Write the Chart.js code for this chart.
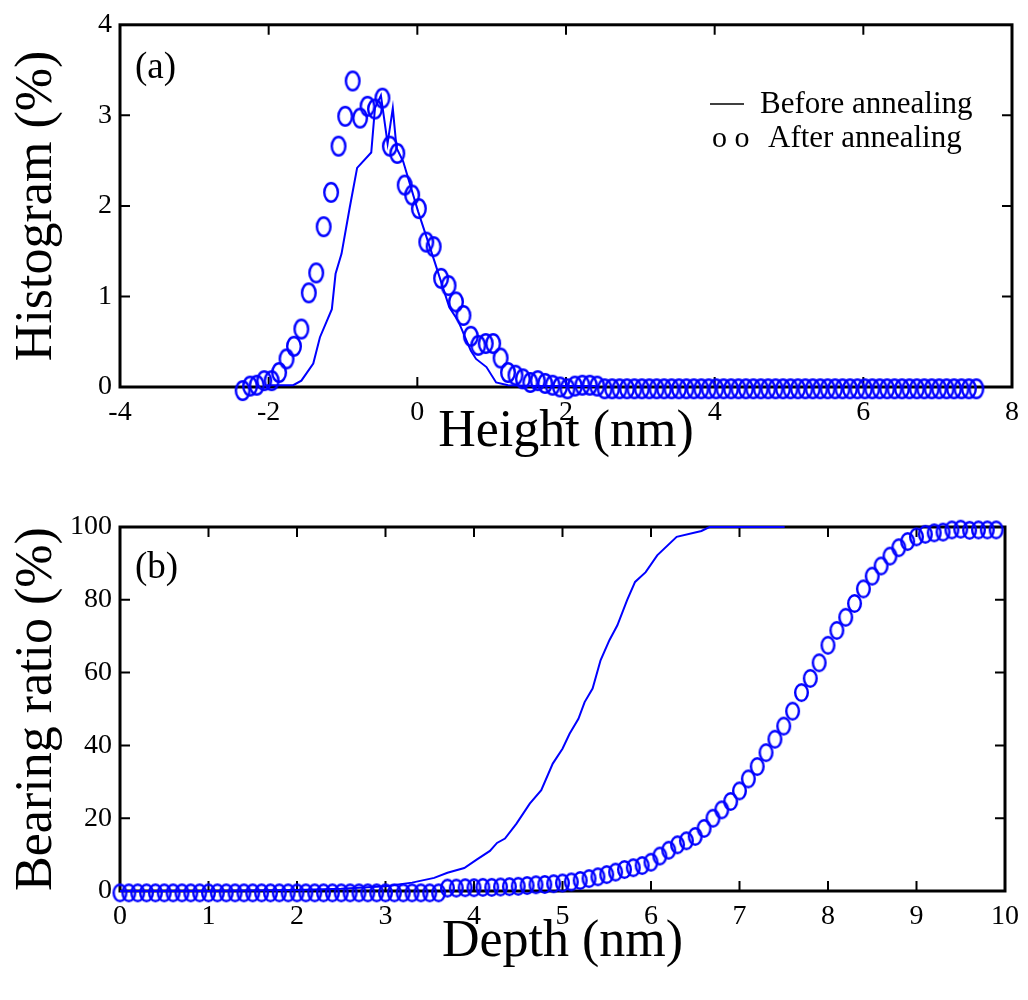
<!DOCTYPE html>
<html>
<head>
<meta charset="utf-8">
<script src="https://cdn.jsdelivr.net/npm/chart.js@4.4.1/dist/chart.umd.min.js"></script>
<style>
  html, body { margin: 0; padding: 0; background: #fff; }
  #wrap { position: relative; width: 1028px; height: 1000px; }
  canvas { position: absolute; left: 0; }
  #histChart { top: 0; }
  #bearingChart { top: 500px; }
</style>
</head>
<body>
<div id="wrap">
  <canvas id="histChart" width="1028" height="500"></canvas>
  <canvas id="bearingChart" width="1028" height="500"></canvas>
</div>
<script>
// ---- (a) height histogram ----
const histXTicks = [-4, -2, 0, 2, 4, 6, 8];
const histYTicks = [0, 1, 2, 3, 4];

const histBeforeX = [-2.03, -1.67, -1.56, -1.40, -1.31, -1.15, -1.10, -1.02, -0.91, -0.81, -0.62, -0.57, -0.49, -0.40, -0.33, -0.28, -0.19, 0.01, 0.23, 0.43, 0.55, 0.72, 0.79, 0.93, 1.06, 1.22, 1.6, 2.0, 2.4];
const histBeforeY = [0.02, 0.02, 0.07, 0.26, 0.55, 0.86, 1.25, 1.47, 1.98, 2.42, 2.59, 3.08, 3.22, 2.69, 3.08, 2.64, 2.49, 1.94, 1.39, 0.88, 0.73, 0.40, 0.31, 0.22, 0.05, 0.02, 0.01, 0.01, 0.01];

const histAfterX = [-2.35, -2.25, -2.16, -2.06, -1.96, -1.86, -1.76, -1.66, -1.56, -1.46,
  -1.36, -1.26, -1.16, -1.06, -0.97, -0.87, -0.77, -0.67, -0.57, -0.47,
  -0.37, -0.27, -0.17, -0.07, 0.02, 0.12, 0.22, 0.32, 0.42, 0.52,
  0.62, 0.72, 0.82, 0.92, 1.02, 1.12, 1.22, 1.32, 1.42, 1.52,
  1.62, 1.72, 1.82, 1.92, 2.02, 2.12, 2.22, 2.32, 2.42, 2.52,
  2.62, 2.72, 2.82, 2.92, 3.02, 3.12, 3.22, 3.32, 3.42, 3.52,
  3.62, 3.72, 3.82, 3.92, 4.02, 4.12, 4.22, 4.32, 4.42, 4.52,
  4.62, 4.72, 4.82, 4.92, 5.02, 5.12, 5.22, 5.32, 5.42, 5.52,
  5.62, 5.72, 5.82, 5.92, 6.02, 6.12, 6.22, 6.32, 6.42, 6.52,
  6.62, 6.72, 6.82, 6.92, 7.02, 7.12, 7.22, 7.32, 7.42, 7.52];
const histAfterY = [-0.04, 0.01, 0.02, 0.07, 0.07, 0.16, 0.31, 0.45, 0.64, 1.04,
  1.26, 1.77, 2.15, 2.66, 2.99, 3.38, 2.97, 3.10, 3.07, 3.19,
  2.66, 2.58, 2.23, 2.12, 1.97, 1.60, 1.55, 1.20, 1.12, 0.94,
  0.79, 0.56, 0.46, 0.48, 0.48, 0.32, 0.16, 0.13, 0.09, 0.05,
  0.07, 0.04, 0.02, 0.00, -0.02, 0.01, 0.02, 0.02, 0.01, -0.02,
  -0.02, -0.02, -0.02, -0.02, -0.02, -0.02, -0.02, -0.02, -0.02, -0.02,
  -0.02, -0.02, -0.02, -0.02, -0.02, -0.02, -0.02, -0.02, -0.02, -0.02,
  -0.02, -0.02, -0.02, -0.02, -0.02, -0.02, -0.02, -0.02, -0.02, -0.02,
  -0.02, -0.02, -0.02, -0.02, -0.02, -0.02, -0.02, -0.02, -0.02, -0.02,
  -0.02, -0.02, -0.02, -0.02, -0.02, -0.02, -0.02, -0.02, -0.02, -0.02];

// ---- (b) bearing ratio ----
const bearXTicks = [0, 1, 2, 3, 4, 5, 6, 7, 8, 9, 10];
const bearYTicks = [0, 20, 40, 60, 80, 100];

const bearBeforeX = [0, 1, 2, 2.5, 3.0, 3.3, 3.55, 3.7, 3.89, 4.03, 4.18, 4.26, 4.35, 4.48, 4.63, 4.76, 4.89, 5.0, 5.08, 5.18, 5.25, 5.34, 5.43, 5.53, 5.62, 5.73, 5.82, 5.94, 6.07, 6.29, 6.57, 6.66, 7.51];
const bearBeforeY = [0, 0, 0.3, 0.6, 1.3, 2.3, 3.6, 5.0, 6.3, 8.6, 11.0, 13.2, 14.4, 18.5, 24.0, 27.7, 35.0, 39.1, 43.2, 47.3, 51.9, 55.6, 63.4, 68.9, 73.0, 79.9, 84.9, 87.6, 92.2, 97.3, 98.9, 100, 100];

const bearAfterX = [0.0, 0.1, 0.2, 0.3, 0.4, 0.5, 0.6, 0.7, 0.8, 0.9,
  1.0, 1.1, 1.2, 1.3, 1.4, 1.5, 1.6, 1.7, 1.8, 1.9,
  2.0, 2.1, 2.2, 2.3, 2.4, 2.5, 2.6, 2.7, 2.8, 2.9,
  3.0, 3.1, 3.2, 3.3, 3.4, 3.5, 3.6, 3.7, 3.8, 3.9,
  4.0, 4.1, 4.2, 4.3, 4.4, 4.5, 4.6, 4.7, 4.8, 4.9,
  5.0, 5.1, 5.2, 5.3, 5.4, 5.5, 5.6, 5.7, 5.8, 5.9,
  6.0, 6.1, 6.2, 6.3, 6.4, 6.5, 6.6, 6.7, 6.8, 6.9,
  7.0, 7.1, 7.2, 7.3, 7.4, 7.5, 7.6, 7.7, 7.8, 7.9,
  8.0, 8.1, 8.2, 8.3, 8.4, 8.5, 8.6, 8.7, 8.8, 8.9,
  9.0, 9.1, 9.2, 9.3, 9.4, 9.5, 9.6, 9.7, 9.8, 9.9];
const bearAfterY = [-0.5, -0.5, -0.5, -0.5, -0.5, -0.5, -0.5, -0.5, -0.5, -0.5,
  -0.5, -0.5, -0.5, -0.5, -0.5, -0.5, -0.5, -0.5, -0.5, -0.5,
  -0.5, -0.5, -0.5, -0.5, -0.5, -0.5, -0.5, -0.5, -0.5, -0.5,
  -0.5, -0.5, -0.5, -0.5, -0.5, -0.5, -0.5, 0.8, 0.8, 0.9,
  0.9, 1.0, 1.0, 1.1, 1.2, 1.3, 1.5, 1.7, 1.8, 2.0,
  2.2, 2.5, 2.9, 3.4, 3.9, 4.5, 5.2, 5.9, 6.4, 7.0,
  7.9, 9.6, 11.2, 12.7, 13.8, 15.0, 17.2, 20.0, 22.3, 24.6,
  27.5, 30.8, 34.2, 38.0, 41.7, 45.3, 49.4, 54.5, 58.4, 62.7,
  67.5, 71.6, 75.2, 79.0, 83.0, 86.5, 89.3, 92.0, 94.3, 96.0,
  97.3, 98.0, 98.4, 98.6, 99.2, 99.4, 99.1, 99.2, 99.2, 99.2];

const FONT = '"Liberation Serif", "Times New Roman", serif';
const BLUE = 'rgb(0,0,255)';

function zip(xs, ys) {
  return xs.map((x, i) => ({ x: x, y: ys[i] }));
}

// open elliptical marker, like the reference's slightly tall circles
function ellipseMarker(w, h) {
  const c = document.createElement('canvas');
  c.width = w + 4;
  c.height = h + 4;
  const g = c.getContext('2d');
  g.strokeStyle = BLUE;
  g.lineWidth = 2.4;
  g.beginPath();
  g.ellipse(c.width / 2, c.height / 2, w / 2 - 1.2, h / 2 - 1.2, 0, 0, Math.PI * 2);
  g.stroke();
  return c;
}

// box frame + inward ticks on all four sides, then free text
const framePlugin = {
  id: 'frame',
  beforeDatasetsDraw(chart) {
    const { ctx, chartArea: a, scales } = chart;
    const tl = 10;
    ctx.save();
    ctx.strokeStyle = '#000';
    ctx.lineWidth = 2;
    ctx.beginPath();
    scales.x.ticks.forEach(t => {
      const px = scales.x.getPixelForValue(t.value);
      if (px <= a.left + 1 || px >= a.right - 1) return;
      ctx.moveTo(px, a.bottom); ctx.lineTo(px, a.bottom - tl);
      ctx.moveTo(px, a.top); ctx.lineTo(px, a.top + tl);
    });
    scales.y.ticks.forEach(t => {
      const py = scales.y.getPixelForValue(t.value);
      if (py <= a.top + 1 || py >= a.bottom - 1) return;
      ctx.moveTo(a.left, py); ctx.lineTo(a.left + tl, py);
      ctx.moveTo(a.right, py); ctx.lineTo(a.right - tl, py);
    });
    ctx.stroke();
    ctx.lineWidth = 3;
    ctx.strokeRect(a.left, a.top, a.right - a.left, a.bottom - a.top);
    ctx.restore();
  },
  afterDraw(chart, args, opts) {
    const ctx = chart.ctx;
    ctx.save();
    ctx.fillStyle = '#000';
    ctx.strokeStyle = '#000';
    (opts.lines || []).forEach(l => {
      ctx.lineWidth = l.w;
      ctx.beginPath();
      ctx.moveTo(l.x1, l.y);
      ctx.lineTo(l.x2, l.y);
      ctx.stroke();
    });
    ctx.textBaseline = 'alphabetic';
    ctx.textAlign = 'left';
    (opts.texts || []).forEach(t => {
      ctx.font = t.size + 'px ' + FONT;
      ctx.fillText(t.text, t.x, t.y);
    });
    ctx.restore();
  }
};

function makeScales(xTicks, yTicks, xTitle, yTitle, xHeight, xTitlePad) {
  const tickFont = { family: FONT, size: 28 };
  return {
    x: {
      type: 'linear',
      min: xTicks[0],
      max: xTicks[xTicks.length - 1],
      afterBuildTicks: s => { s.ticks = xTicks.map(v => ({ value: v })); },
      grid: { display: false, drawTicks: false },
      border: { display: false },
      ticks: { font: tickFont, color: '#000', padding: 9, maxRotation: 0, autoSkip: false, callback: v => String(v) },
      title: { display: true, text: xTitle, color: '#000', font: { family: FONT, size: 52, lineHeight: 1 }, padding: { top: 0, bottom: xTitlePad } },
      afterFit: s => { s.height = xHeight; }
    },
    y: {
      type: 'linear',
      min: yTicks[0],
      max: yTicks[yTicks.length - 1],
      afterBuildTicks: s => { s.ticks = yTicks.map(v => ({ value: v })); },
      grid: { display: false, drawTicks: false },
      border: { display: false },
      ticks: { font: tickFont, color: '#000', padding: 8, autoSkip: false, callback: v => String(v) },
      title: { display: true, text: yTitle, color: '#000', font: { family: FONT, size: 52, lineHeight: 1 }, padding: { top: 11, bottom: 0 } },
      afterFit: s => { s.width = 120; }
    }
  };
}

new Chart(document.getElementById('histChart'), {
  type: 'scatter',
  data: {
    datasets: [
      {
        label: 'Before annealing',
        data: zip(histBeforeX, histBeforeY),
        showLine: true,
        borderColor: BLUE,
        borderWidth: 2,
        pointRadius: 0,
        tension: 0,
        clip: false
      },
      {
        label: 'After annealing',
        data: zip(histAfterX, histAfterY),
        showLine: false,
        pointStyle: ellipseMarker(16, 21),
        clip: false
      }
    ]
  },
  options: {
    responsive: false,
    animation: false,
    layout: { padding: { top: 23, right: 15, left: 0, bottom: 0 } },
    scales: makeScales(histXTicks, histYTicks, 'Height (nm)', 'Histogram (%)', 113, 42),
    plugins: {
      legend: { display: false },
      tooltip: { enabled: false },
      frame: {
        lines: [{ x1: 710, x2: 744, y: 104, w: 1.5 }],
        texts: [
          { text: '(a)', x: 135, y: 78, size: 37 },
          { text: 'Before annealing', x: 760, y: 113, size: 31 },
          { text: 'o o', x: 712, y: 147, size: 30 },
          { text: 'After annealing', x: 768, y: 147, size: 31 }
        ]
      }
    }
  },
  plugins: [framePlugin]
});

new Chart(document.getElementById('bearingChart'), {
  type: 'scatter',
  data: {
    datasets: [
      {
        label: 'Before annealing',
        data: zip(bearBeforeX, bearBeforeY),
        showLine: true,
        borderColor: BLUE,
        borderWidth: 2,
        pointRadius: 0,
        tension: 0,
        clip: false
      },
      {
        label: 'After annealing',
        data: zip(bearAfterX, bearAfterY),
        showLine: false,
        pointStyle: ellipseMarker(15, 19),
        clip: false
      }
    ]
  },
  options: {
    responsive: false,
    animation: false,
    layout: { padding: { top: 27, right: 16, left: 0, bottom: 0 } },
    scales: makeScales(bearXTicks, bearYTicks, 'Depth (nm)', 'Bearing ratio (%)', 109, 32),
    plugins: {
      legend: { display: false },
      tooltip: { enabled: false },
      frame: {
        texts: [
          { text: '(b)', x: 135, y: 78, size: 37 }
        ]
      }
    }
  },
  plugins: [framePlugin]
});
</script>
</body>
</html>
